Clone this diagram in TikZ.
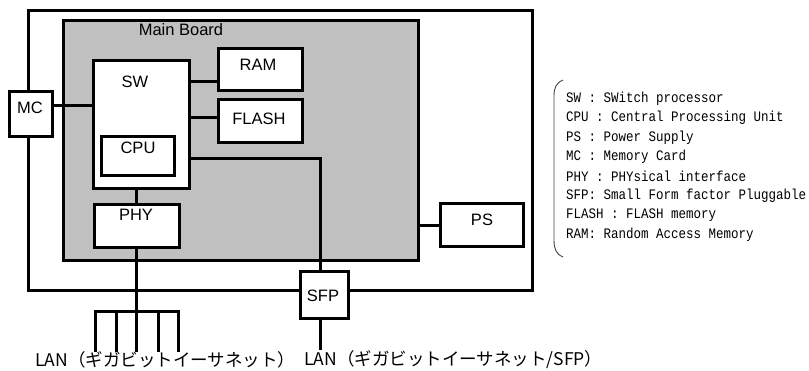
\documentclass[tikz,border=0pt]{standalone}
\usepackage{fontspec}
\usepackage{graphicx}
\setmainfont{Liberation Sans}
\newfontfamily\jpfont{Noto Sans CJK JP}
\newfontfamily\legendfont{Liberation Mono}
\definecolor{boardgray}{RGB}{192,192,192}
\definecolor{bracegray}{RGB}{70,70,70}
\newlength{\lgw}
\newcommand{\lgsize}{\fontsize{14.5}{17}\selectfont}
\newcommand{\lgline}[1]{\scalebox{\lgxs}[1]{#1}}
\begin{document}
\settowidth{\lgw}{\legendfont\lgsize SFP: Small Form factor Pluggable}%
\pgfmathsetmacro{\lgxs}{240/\lgw}%
\begin{tikzpicture}[x=1pt,y=-1pt,
  thickline/.style={line width=3pt},
  box/.style={draw, line width=3pt, fill=white, inner sep=0pt, outer sep=0pt},
  lbl/.style={inner sep=0pt, font=\fontsize{16.5}{19}\selectfont},
  jplbl/.style={inner sep=0pt, anchor=west, font=\jpfont\fontsize{17.5}{20}\selectfont},
  legendtxt/.style={inner sep=0pt, anchor=west, font=\legendfont\lgsize},
]
\useasboundingbox (0,0) rectangle (809,370);
% chassis and board
\node[draw, line width=3pt, inner sep=0pt, outer sep=0pt, minimum width=504pt, minimum height=280pt] (chassis) at (280,150) {};
\node[draw, line width=3pt, fill=boardgray, inner sep=0pt, outer sep=0pt, minimum width=355pt, minimum height=240pt] (board) at (240.5,140) {};
\node[lbl] (boardlbl) at (181,30) {Main Board};
% boxes
\node[box, minimum width=96pt, minimum height=128pt] (sw) at (141,124) {};
\node[lbl] (swlbl) at (135,82) {SW};
\node[box, minimum width=73pt, minimum height=39pt] (cpu) at (137.5,155.5) {};
\node[lbl] (cpulbl) at (138,148) {CPU};
\node[box, minimum width=84pt, minimum height=42pt] (ram) at (260,69) {};
\node[lbl] (ramlbl) at (258,65) {RAM};
\node[box, minimum width=84pt, minimum height=43pt] (flash) at (260,120.5) {};
\node[lbl] (flashlbl) at (259,119) {FLASH};
\node[box, minimum width=43pt, minimum height=45pt] (mc) at (30.5,113.5) {};
\node[lbl] (mclbl) at (30,108) {MC};
\node[box, minimum width=85pt, minimum height=43pt] (phy) at (136.5,225.5) {};
\node[lbl] (phylbl) at (136,215) {PHY};
\node[box, minimum width=48pt, minimum height=47pt] (sfp) at (324,294.5) {};
\node[lbl] (sfplbl) at (323,296) {SFP};
\node[box, minimum width=83pt, minimum height=43pt] (ps) at (481.5,225) {};
\node[lbl] (pslbl) at (482,220) {PS};
% connectors
\draw[thickline] ([yshift=8.5pt]mc.east) coordinate (mcl) -- (mcl -| sw.west);
\draw[thickline] ([yshift=-12pt]ram.west) coordinate (raml) -- (raml -| sw.east);
\draw[thickline] ([yshift=3.5pt]flash.west) coordinate (flashl) -- (flashl -| sw.east);
\draw[thickline] ([yshift=-34pt]sw.east) -| ([xshift=-4pt]sfp.north);
\draw[thickline] (phy.north) -- (phy.north |- sw.south);
\draw[thickline] (ps.west) -- (ps.west -| board.east);
% LAN fan-out
\coordinate (l1) at (95,311);
\coordinate (l2) at (116,311);
\coordinate (l3) at (136.5,311);
\coordinate (l4) at (158,311);
\coordinate (l5) at (178,311);
\coordinate (e1) at (95,352);
\coordinate (e2) at (116,352);
\coordinate (e3) at (136.5,352);
\coordinate (e4) at (158,352);
\coordinate (e5) at (178,352);
\coordinate (e6) at (320,350);
\draw[thickline] (phy.south) -- (e3);
\draw[thickline] (e1) -- (l1) -- (l5) -- (e5);
\draw[thickline] (l2) -- (e2);
\draw[thickline] (l4) -- (e4);
\draw[thickline] ([xshift=-4pt]sfp.south) -- (e6);
% LAN labels
\node[jplbl] (lan1) at (35,360) {LAN（ギガビットイーサネット）};
\node[jplbl] (lan2) at (304,360) {LAN（ギガビットイーサネット/SFP）};
% legend
\draw[bracegray, line width=0.9pt] (563,80) .. controls (556,83) and (554,88) .. (554,96) -- (554,240) .. controls (554,249) and (556,254) .. (563,257);
\node[legendtxt] (lg1) at (566,98.5) {\lgline{SW : SWitch processor}};
\node[legendtxt] (lg2) at (566,118) {\lgline{CPU : Central Processing Unit}};
\node[legendtxt] (lg3) at (566,137.5) {\lgline{PS : Power Supply}};
\node[legendtxt] (lg4) at (566,157) {\lgline{MC : Memory Card}};
\node[legendtxt] (lg5) at (566,176.5) {\lgline{PHY : PHYsical interface}};
\node[legendtxt] (lg6) at (566,196) {\lgline{SFP: Small Form factor Pluggable}};
\node[legendtxt] (lg7) at (566,215.5) {\lgline{FLASH : FLASH memory}};
\node[legendtxt] (lg8) at (566,235) {\lgline{RAM: Random Access Memory}};
\end{tikzpicture}
\end{document}
